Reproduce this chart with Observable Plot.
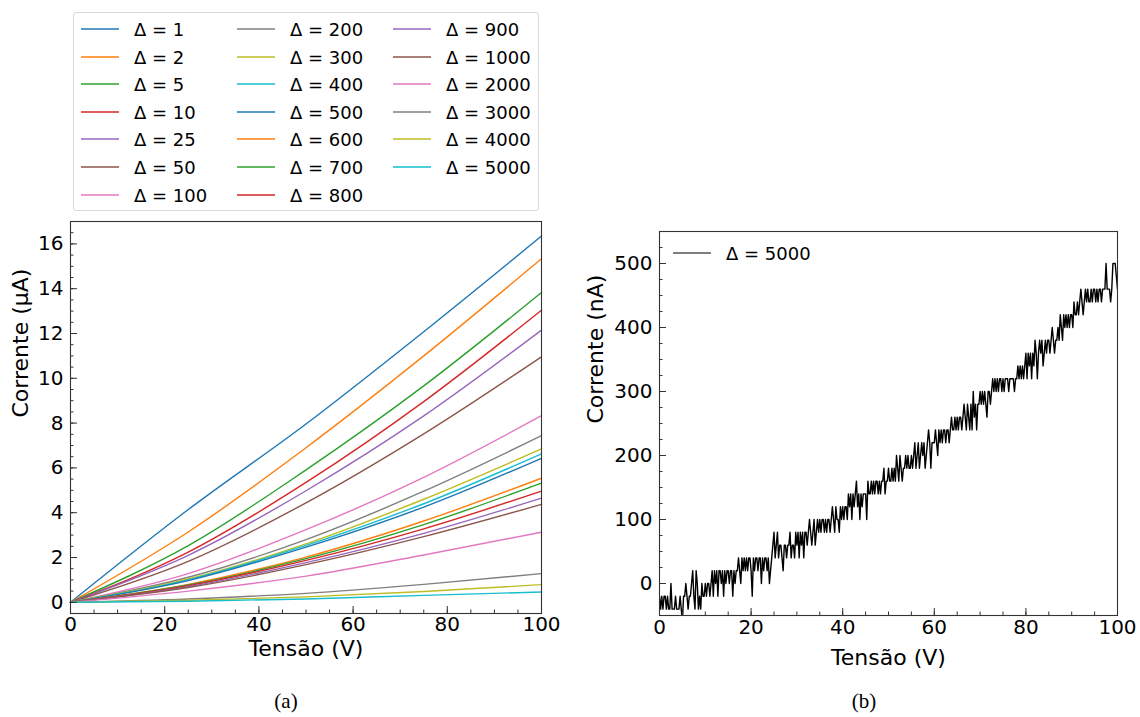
<!DOCTYPE html>
<html><head><meta charset="utf-8">
<script src="https://cdn.jsdelivr.net/npm/d3@7"></script>
<script src="https://cdn.jsdelivr.net/npm/@observablehq/plot@0.6"></script>
<style>
body{margin:0;background:#fff;}
#fig{position:relative;width:1140px;height:717px;font-family:"DejaVu Sans",sans-serif;overflow:hidden;background:#fff;color:#000}
#left{position:absolute;left:0;top:211px}
#right{position:absolute;left:580px;top:211px}
.legend{position:absolute;left:73px;top:12px;width:466px;height:199px;border:1px solid #d8d8d8;border-radius:3px;box-sizing:border-box;background:#fff}
.item{position:absolute;height:22px;display:flex;align-items:center;font-size:18px;white-space:nowrap}
.item svg{margin-right:15px;display:block}
.cap{position:absolute;top:689px;font-family:"Liberation Serif",serif;font-size:21px;transform:translateX(-50%)}
</style></head><body><div id="fig"><div id="left"></div><div id="right"></div></div>
<script>
// ---- data (a): current (µA) vs voltage (V) for each Δ ----
const deltas = [1, 2, 5, 10, 25, 50, 100, 200, 300, 400, 500, 600, 700, 800, 900, 1000, 2000, 3000, 4000, 5000];
const voltages = [0, 25, 50, 75, 100];
const current0   = [0, 0, 0, 0, 0, 0, 0, 0, 0, 0, 0, 0, 0, 0, 0, 0, 0, 0, 0, 0];
const current25  = [4.14, 3.14, 2.53, 2.24, 2.10, 1.83, 1.28, 1.12, 1.04, 1.00, 0.97, 0.80, 0.77, 0.74, 0.70, 0.66, 0.50, 0.15, 0.09, 0.05];
const current50  = [7.96, 6.90, 5.91, 5.35, 4.98, 4.44, 3.24, 2.80, 2.61, 2.54, 2.46, 2.02, 1.95, 1.87, 1.77, 1.68, 1.17, 0.40, 0.24, 0.15];
const current75  = [12.08, 11.00, 9.66, 8.96, 8.32, 7.52, 5.58, 4.96, 4.60, 4.40, 4.25, 3.63, 3.47, 3.28, 3.08, 2.93, 2.11, 0.80, 0.48, 0.31];
const current100 = [16.35, 15.34, 13.83, 13.04, 12.15, 10.96, 8.33, 7.44, 6.85, 6.63, 6.43, 5.54, 5.32, 4.96, 4.65, 4.37, 3.13, 1.28, 0.79, 0.46];

// ---- data (b): current (nA) for Δ = 5000, sampled every 0.25 V from 0 to 100 V ----
const voltageStep = 0.25;
const current5000 = [
  -20,-40,-20,-40,-20,-20,-40,-20,-40,-40,0,-40,-40,-40,-20,-40,-40,-40,-20,-40,
  -60,-20,-20,0,-20,-40,-20,-20,0,20,-20,-40,20,0,-40,-20,-40,0,-20,-20,
  0,-20,0,0,-20,0,20,-20,20,0,20,-20,20,20,0,20,-20,20,0,20,
  20,0,20,20,-20,20,0,20,20,40,20,0,40,20,40,20,40,20,40,40,
  20,-20,40,20,40,40,20,40,40,0,40,20,40,40,20,40,0,20,40,60,
  80,40,60,80,40,60,60,40,20,60,60,40,60,60,80,40,60,60,40,80,
  60,80,40,80,60,80,40,80,80,60,80,100,80,60,80,100,60,80,100,80,
  100,80,100,100,80,100,80,100,100,80,100,120,100,80,120,100,100,80,120,100,
  120,100,120,120,100,140,120,140,100,140,120,140,160,120,140,100,140,120,140,140,
  140,100,160,140,140,160,140,160,140,160,160,140,160,140,160,160,180,140,160,160,
  180,160,160,180,160,180,160,200,180,160,200,180,160,180,180,200,180,200,180,180,
  200,180,200,220,180,200,220,180,200,220,200,220,180,200,220,240,220,180,220,220,
  220,240,220,200,240,220,240,220,240,240,220,240,240,220,240,260,240,240,260,240,
  260,240,260,260,240,260,280,260,240,280,260,240,280,240,300,260,280,240,280,280,
  300,280,300,280,300,280,260,300,300,280,300,320,300,320,300,320,300,320,320,300,
  320,300,320,320,320,300,320,320,320,320,300,320,320,340,320,340,320,340,320,340,
  360,320,360,340,360,320,360,340,380,360,320,360,380,360,380,340,360,380,360,380,
  380,360,380,400,380,360,380,380,400,380,420,400,380,420,400,420,400,420,400,420,
  420,400,440,420,420,440,420,440,460,440,420,440,460,440,460,440,440,460,440,460,
  460,440,460,440,460,460,440,460,460,460,500,460,460,460,440,460,500,500,500,480,
  460
];

// ---- ticks ----
const xTicks = [0, 20, 40, 60, 80, 100];
const leftYTicks = [0, 2, 4, 6, 8, 10, 12, 14, 16];
const rightYTicks = [0, 100, 200, 300, 400, 500];

// ---- styles ----
const palette = ["#1f77b4","#ff7f0e","#2ca02c","#d62728","#9467bd","#8c564b","#e377c2","#7f7f7f","#bcbd22","#17becf"];
const colors = deltas.map((d, i) => palette[i % 10]);
const labelOf = d => `Δ = ${d}`;

const columns = [current0, current25, current50, current75, current100];
const rows = [];
deltas.forEach((d, k) => voltages.forEach((v, j) => rows.push({delta: labelOf(d), V: v, I: columns[j][k]})));

function axes(xMinor, yMajor, yMinor, xPad) {
  const tickStroke = "#333";
  return [
    Plot.axisX(xMinor, {tickSize: -3.5, tickFormat: () => "", stroke: tickStroke, label: null}),
    Plot.axisX(xTicks, {tickSize: -7, tickPadding: xPad, fontSize: 20, stroke: tickStroke, fill: "#000", label: null}),
    Plot.axisY(yMinor, {tickSize: -3.5, tickFormat: () => "", stroke: tickStroke, label: null}),
    Plot.axisY(yMajor, {tickSize: -7, tickPadding: 14, fontSize: 20, stroke: tickStroke, fill: "#000", label: null})
  ];
}

const left = Plot.plot({
  width: 572, height: 460,
  marginLeft: 70, marginRight: 31, marginTop: 10, marginBottom: 58,
  style: {fontFamily: "DejaVu Sans", fontSize: "20px", background: "transparent"},
  x: {domain: [0, 100]},
  y: {domain: [-0.5, 17]},
  color: {domain: deltas.map(labelOf), range: colors},
  marks: [
    Plot.line(rows, {x: "V", y: "I", z: "delta", stroke: "delta", strokeWidth: 1.4, curve: "monotone-x"}),
    ...axes(d3.range(0, 100.01, 5), leftYTicks, d3.range(0, 17.01, 0.5), 10),
    Plot.frame({stroke: "#333", strokeWidth: 1.1}),
    Plot.text(["Corrente (μA)"], {frameAnchor: "left", dx: -50, rotate: -90, fontSize: 22, lineAnchor: "middle"}),
    Plot.text(["Tensão (V)"], {frameAnchor: "bottom", dy: 35, fontSize: 22, lineAnchor: "middle"})
  ]
});
document.getElementById("left").appendChild(left);

const right = Plot.plot({
  width: 557, height: 462,
  marginLeft: 79, marginRight: 20, marginTop: 20, marginBottom: 58,
  style: {fontFamily: "DejaVu Sans", fontSize: "20px", background: "transparent"},
  x: {domain: [0, 100]},
  y: {domain: [-50, 550]},
  marks: [
    Plot.line(current5000, {x: (d, i) => i * voltageStep, y: d => d, stroke: "#000", strokeWidth: 1.4, clip: true}),
    ...axes(d3.range(0, 100.01, 5), rightYTicks, d3.range(-25, 550, 25), 11),
    Plot.frame({stroke: "#333", strokeWidth: 1.1}),
    Plot.text(["Corrente (nA)"], {frameAnchor: "left", dx: -64, rotate: -90, fontSize: 22, lineAnchor: "middle"}),
    Plot.text(["Tensão (V)"], {frameAnchor: "bottom", dy: 42, fontSize: 22, lineAnchor: "middle"})
  ]
});
document.getElementById("right").appendChild(right);

// ---- legends ----
const fig = document.getElementById("fig");
const legend = document.createElement("div");
legend.className = "legend";
fig.appendChild(legend);
const swatch = (c, w) => `<svg width="38" height="6"><line x1="0" x2="38" y1="3" y2="3" stroke="${c}" stroke-width="${w}"/></svg>`;
const colX = [7, 163, 319];
deltas.forEach((d, i) => {
  const col = i < 7 ? 0 : i < 14 ? 1 : 2;
  const row = i < 7 ? i : i < 14 ? i - 7 : i - 14;
  const it = document.createElement("div");
  it.className = "item";
  it.style.left = colX[col] + "px";
  it.style.top = Math.round(16 + row * 27.6 - 11) + "px";
  it.innerHTML = swatch(colors[i], 1.6) + `<span>${labelOf(d)}</span>`;
  legend.appendChild(it);
});
const leg2 = document.createElement("div");
leg2.className = "item";
leg2.style.left = "673px";
leg2.style.top = (253 - 11) + "px";
leg2.innerHTML = swatch("#000", 1.2) + `<span>${labelOf(5000)}</span>`;
fig.appendChild(leg2);

[["(a)", 286], ["(b)", 864]].forEach(([t, x]) => {
  const c = document.createElement("div");
  c.className = "cap"; c.textContent = t; c.style.left = x + "px";
  fig.appendChild(c);
});
</script></body></html>
